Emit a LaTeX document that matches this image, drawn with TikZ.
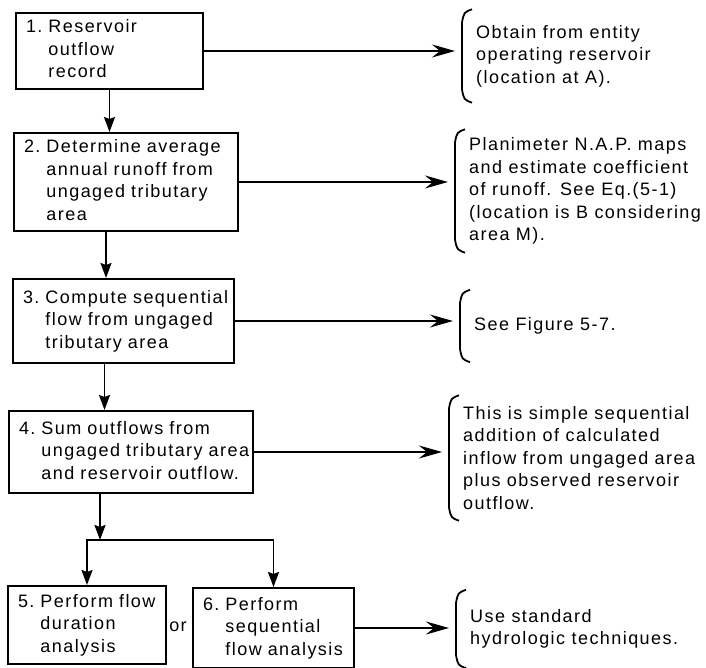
\documentclass[tikz,border=0pt]{standalone}
\usepackage{fontspec}
\setmainfont[LetterSpace=8]{Liberation Sans}
\usetikzlibrary{arrows.meta}
\newcommand{\steptext}[2]{\begin{tabular}[t]{@{}l@{\hspace{6pt}}l@{}}#1&\begin{tabular}[t]{@{}l@{}}#2\end{tabular}\end{tabular}}
\newcommand{\notebrace}[1]{%
  \draw[brace] ([xshift=-4pt]#1.north west) .. controls ([xshift=-12pt,yshift=-3pt]#1.north west) .. ([xshift=-14pt,yshift=-13pt]#1.north west)
     -- ([xshift=-14pt,yshift=13pt]#1.south west) .. controls ([xshift=-12pt,yshift=3pt]#1.south west) .. ([xshift=-4pt]#1.south west);
  \coordinate (#1tip) at ([xshift=-21pt]#1.west);}

\begin{document}
\begin{tikzpicture}[x=1pt,y=-1pt,
   every node/.style={font=\fontsize{18}{22.5}\selectfont},
   box/.style={draw,line width=2pt,anchor=north west,align=left,inner xsep=10pt,inner ysep=0pt},
   note/.style={anchor=west,align=left,inner sep=0pt},
   arr/.style={line width=1.8pt,-{Stealth[length=15pt,width=11pt,inset=2pt]}},
   farr/.style={line width=1.8pt,-{Stealth[length=23pt,width=13pt,inset=8pt]}},
   brace/.style={line width=1.8pt}]
  \useasboundingbox (0,0) rectangle (706,668);
  \node[box,text width=167pt,minimum height=76pt] (s1) at (15,12) {\steptext{1.}{Reservoir\\outflow\\record}};
  \node[box,text width=204pt,minimum height=98pt] (s2) at (13,132) {\steptext{2.}{Determine average\\annual runoff from\\ungaged tributary\\area}};
  \node[box,text width=201pt,minimum height=84pt] (s3) at (12,278) {\steptext{3.}{Compute sequential\\flow from ungaged\\tributary area}};
  \node[box,text width=224pt,minimum height=82pt] (s4) at (8,410) {\steptext{4.}{Sum outflows from\\ungaged tributary area\\and reservoir outflow.}};
  \node[box,text width=138pt,minimum height=78pt] (s5) at (7,585) {\steptext{5.}{Perform flow\\duration\\analysis}};
  \node[box,text width=141pt,minimum height=80pt] (s6) at (192,587) {\steptext{6.}{Perform\\sequential\\flow analysis}};
  \node (or) at (178,627) {or};

  \node[note,minimum height=93pt] (n1) at (476,56) {Obtain from entity\\operating reservoir\\(location at A).};
  \node[note,minimum height=123pt] (n2) at (469,191) {Planimeter N.A.P. maps\\and estimate coefficient\\of runoff. See Eq.(5-1)\\(location is B considering\\area M).};
  \node[note,minimum height=72pt] (n3) at (474,326) {See Figure 5-7.};
  \node[note,minimum height=125pt] (n4) at (463,458) {This is simple sequential\\addition of calculated\\inflow from ungaged area\\plus observed reservoir\\outflow.};
  \node[note,minimum height=78pt] (n6) at (470,629) {Use standard\\hydrologic techniques.};
  \notebrace{n1}
  \notebrace{n2}
  \notebrace{n3}
  \notebrace{n4}
  \notebrace{n6}

  \coordinate (a2) at ([xshift=-20pt]s2.south);
  \coordinate (a3) at ([xshift=-19pt]s3.south);
  \coordinate (split) at (100,540);
  \draw[arr] (s1.south) -- (s1.south |- s2.north);
  \draw[arr] (a2) -- (a2 |- s3.north);
  \draw[arr] (a3) -- (a3 |- s4.north);
  \draw[arr] (s4.south -| split) -- (split);
  \draw[arr] (split) -| (s5.north);
  \draw[arr] (split) -| (s6.north);

  \draw[farr] (s1.east) -- (s1.east -| n1tip);
  \draw[farr] (s2.east) -- (s2.east -| n2tip);
  \draw[farr] (s3.east) -- (s3.east -| n3tip);
  \draw[farr] (s4.east) -- (s4.east -| n4tip);
  \draw[farr] (s6.east) -- (s6.east -| n6tip);
\end{tikzpicture}
\end{document}
